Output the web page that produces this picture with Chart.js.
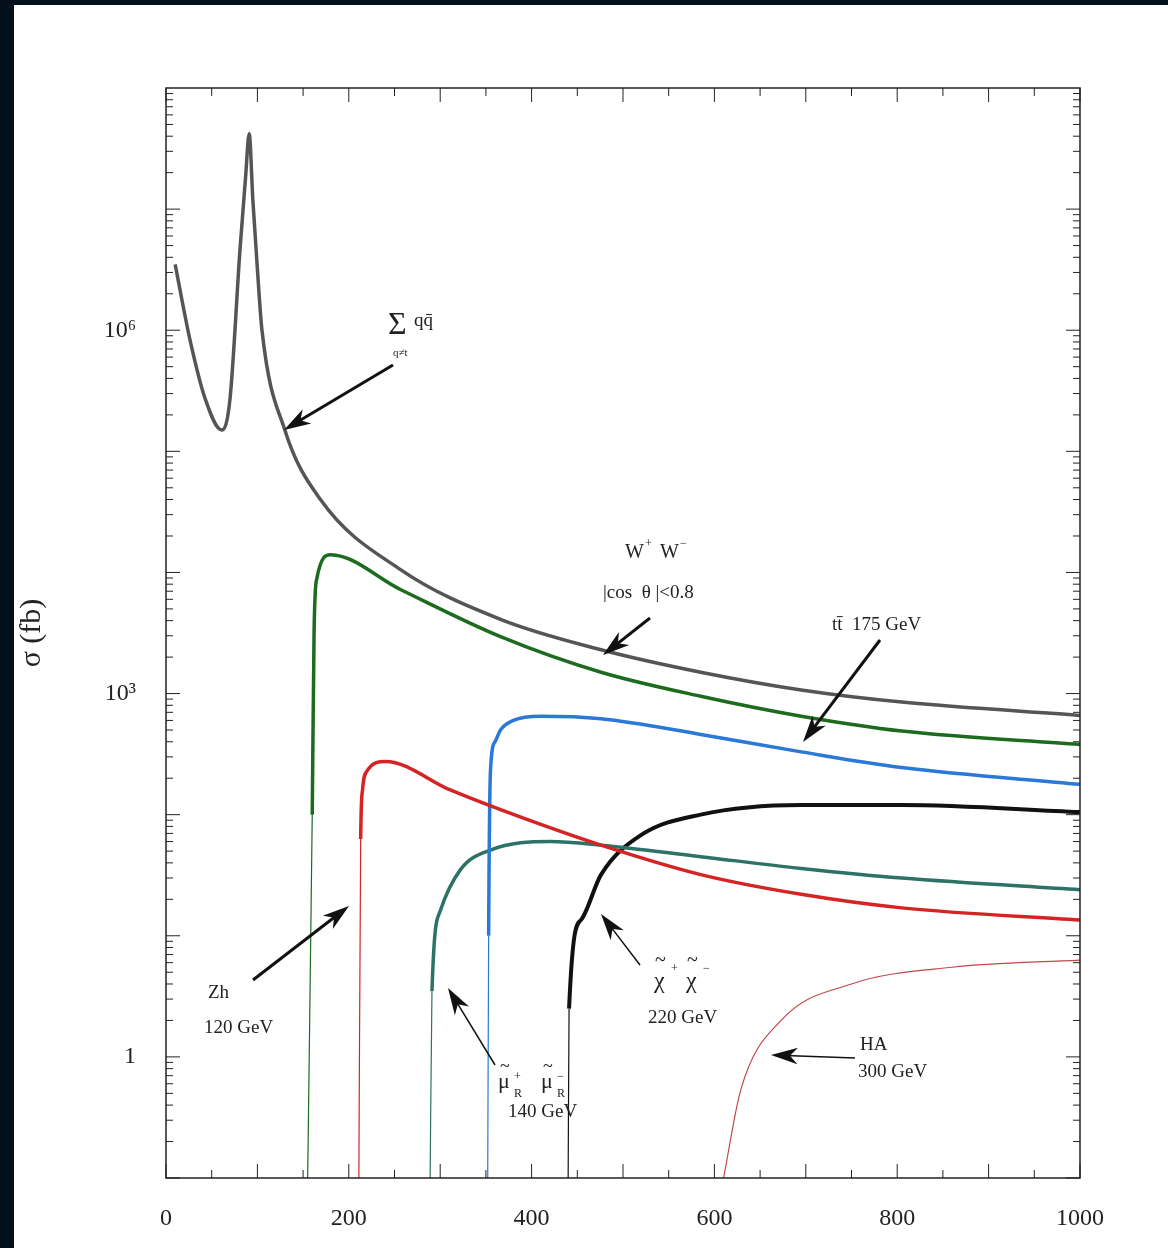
<!DOCTYPE html>
<html>
<head>
<meta charset="utf-8">
<script src="https://cdn.jsdelivr.net/npm/chart.js@4"></script>
<style>
  html, body { margin: 0; padding: 0; background: #03101c; }
  #wrap { position: absolute; left: 0; top: 0; width: 1168px; height: 1248px; }
</style>
</head>
<body>
<div id="wrap"><canvas id="c" width="1168" height="1248"></canvas></div>
<script>
// sqrt(s) in GeV, sigma in fb
const qqX   = [10, 26, 43, 61, 70, 81, 87, 91, 95, 100, 105, 130, 169, 257, 366, 476, 585, 695, 805, 1000];
const qqY   = [3.5e6, 8.5e5, 2.7e5, 1.5e5, 2.7e5, 4.7e6, 1.8e7, 4.2e7, 1.2e7, 3.2e6, 1.0e6, 1.5e5, 4.0e4, 1.05e4, 4.1e3, 2.3e3, 1.5e3, 1.07e3, 850, 660];

const wwX   = [155, 160, 162, 165, 180, 257, 366, 476, 585, 695, 805, 1000];
const wwY   = [0.1, 100, 3200, 8900, 1.4e4, 7200, 2950, 1500, 950, 650, 490, 380];

const zhX   = [211, 213, 215, 220, 240, 311, 366, 476, 585, 695, 805, 1000];
const zhY   = [0.1, 63, 160, 230, 275, 160, 110, 56, 32, 22, 17, 13.5];

const ttX   = [352, 353, 355, 360, 366, 380, 410, 476, 585, 695, 805, 1000];
const ttY   = [0.1, 10, 230, 400, 500, 600, 650, 620, 460, 330, 245, 178];

const smuX  = [289, 291, 300, 322, 355, 421, 476, 585, 695, 805, 1000];
const smuY  = [0.1, 3.5, 16, 35, 51, 60, 56, 45, 36, 30, 24];

const chiX  = [440, 441, 454, 476, 520, 585, 695, 805, 1000];
const chiY  = [0.1, 2.5, 13.5, 32, 68, 100, 120, 120, 105];

const haX   = [610, 629, 673, 750, 860, 1000];
const haY   = [0.1, 0.54, 2.0, 4.0, 5.5, 6.3];

const yLabels = { 1: '1', 1000: '10³', 1000000: '10⁶' };

const pts = (xs, ys) => xs.map((x, i) => ({ x, y: ys[i] }));

function curve(xs, ys, color, width, thinFirst) {
    return {
        data: pts(xs, ys),
        showLine: true,
        borderColor: color,
        borderWidth: width,
        pointRadius: 0,
        cubicInterpolationMode: 'monotone',
        segment: thinFirst ? { borderWidth: c => c.p0DataIndex === 0 ? 1.2 : width } : undefined
    };
}

const serif = 'Liberation Serif';

// page background, inward minor ticks, annotations
const decor = {
    id: 'decor',
    beforeDraw(chart) {
        const ctx = chart.ctx;
        ctx.save();
        ctx.fillStyle = '#ffffff';
        ctx.fillRect(14, 5, 1168 - 14, 1248 - 5);
        ctx.restore();
    },
    afterDraw(chart) {
        const ctx = chart.ctx, a = chart.chartArea;
        const xs = chart.scales.x, ys = chart.scales.y;
        ctx.save();
        ctx.strokeStyle = '#222';
        ctx.lineWidth = 1.5;
        ctx.strokeRect(a.left, a.top, a.right - a.left, a.bottom - a.top);
        ctx.lineWidth = 1;
        for (let v = 0; v <= 1000; v += 50) {
            const p = xs.getPixelForValue(v), len = v % 100 === 0 ? 14 : 8;
            ctx.beginPath();
            ctx.moveTo(p, a.bottom); ctx.lineTo(p, a.bottom - len);
            ctx.moveTo(p, a.top); ctx.lineTo(p, a.top + len);
            ctx.stroke();
        }
        for (let e = -1; e < 8; e++) {
            for (let m = 1; m < 10; m++) {
                const p = ys.getPixelForValue(m * Math.pow(10, e));
                const len = m === 1 ? 14 : 7;
                ctx.beginPath();
                ctx.moveTo(a.left, p); ctx.lineTo(a.left + len, p);
                ctx.moveTo(a.right, p); ctx.lineTo(a.right - len, p);
                ctx.stroke();
            }
        }
        function arrow(px1, py1, px2, py2, w) {
            const ang = Math.atan2(py2 - py1, px2 - px1);
            ctx.lineWidth = w;
            ctx.strokeStyle = '#111';
            ctx.beginPath(); ctx.moveTo(px1, py1);
            ctx.lineTo(px2 - 14 * Math.cos(ang), py2 - 14 * Math.sin(ang)); ctx.stroke();
            ctx.fillStyle = '#111';
            ctx.beginPath();
            ctx.moveTo(px2, py2);
            ctx.lineTo(px2 - 28 * Math.cos(ang - 0.3), py2 - 28 * Math.sin(ang - 0.3));
            ctx.lineTo(px2 - 19 * Math.cos(ang), py2 - 19 * Math.sin(ang));
            ctx.lineTo(px2 - 28 * Math.cos(ang + 0.3), py2 - 28 * Math.sin(ang + 0.3));
            ctx.closePath(); ctx.fill();
        }
        arrow(393, 365, 284, 430, 3);
        arrow(650, 618, 603, 655, 3);
        arrow(880, 640, 803, 742, 3);
        arrow(253, 980, 349, 906, 3);
        arrow(495, 1065, 448, 988, 1.5);
        arrow(640, 965, 601, 914, 1.5);
        arrow(855, 1058, 771, 1055, 1.5);

        ctx.fillStyle = '#222';
        ctx.textBaseline = 'alphabetic';
        const t = (s, x, y, size) => { ctx.font = size + 'px ' + serif; ctx.fillText(s, x, y); };
        t('Σ', 388, 334, 32); t('qq̄', 414, 326, 19); t('q≠t', 393, 356, 11);
        t('W', 625, 558, 20); t('+', 645, 547, 12); t('W', 660, 558, 20); t('−', 680, 547, 12);
        t('|cos  θ |<0.8', 603, 598, 19);
        t('tt̄  175 GeV', 832, 630, 19);
        t('Zh', 208, 998, 19); t('120 GeV', 204, 1033, 19);
        t('~', 500, 1072, 18); t('μ', 498, 1088, 22); t('+', 514, 1080, 12); t('R', 514, 1097, 12);
        t('~', 543, 1072, 18); t('μ', 541, 1088, 22); t('−', 557, 1080, 12); t('R', 557, 1097, 12);
        t('140 GeV', 508, 1117, 19);
        t('~', 655, 966, 20); t('χ', 654, 988, 24); t('+', 671, 972, 12);
        t('~', 687, 966, 20); t('χ', 686, 988, 24); t('−', 703, 972, 12);
        t('220 GeV', 648, 1023, 19);
        t('HA', 860, 1050, 19); t('300 GeV', 858, 1077, 19);
        ctx.restore();
    }
};

new Chart(document.getElementById('c'), {
    type: 'scatter',
    data: {
        datasets: [
            curve(qqX, qqY, '#555555', 3.5, false),
            curve(wwX, wwY, '#1d6b1f', 3.5, true),
            curve(zhX, zhY, '#d42424', 3.5, true),
            curve(ttX, ttY, '#2a78d8', 3.5, true),
            curve(smuX, smuY, '#2c7266', 3.5, true),
            curve(chiX, chiY, '#111111', 4, true),
            curve(haX, haY, '#c0474d', 1.2, false)
        ]
    },
    options: {
        responsive: false,
        animation: false,
        layout: { padding: { left: 14, top: 88, right: 88, bottom: 0 } },
        plugins: { legend: { display: false }, tooltip: { enabled: false } },
        scales: {
            x: {
                type: 'linear', min: 0, max: 1000,
                afterFit: s => { s.height = 70; },
                grid: { display: false, drawTicks: false },
                border: { display: false },
                ticks: { stepSize: 200, color: '#222', padding: 26, font: { family: serif, size: 24 },
                    callback: v => String(v) }
            },
            y: {
                type: 'logarithmic', min: 0.1, max: 1e8,
                afterFit: s => { s.width = 152; },
                afterBuildTicks: s => { s.ticks = [1, 1000, 1000000].map(v => ({ value: v })); },
                grid: { display: false, drawTicks: false },
                border: { display: false },
                title: { display: true, text: 'σ (fb)', color: '#222', font: { family: serif, size: 30 }, padding: 0 },
                ticks: { color: '#222', padding: 30, font: { family: serif, size: 24 },
                    callback: v => yLabels[v] || '' }
            }
        }
    },
    plugins: [decor]
});
</script>
</body>
</html>
